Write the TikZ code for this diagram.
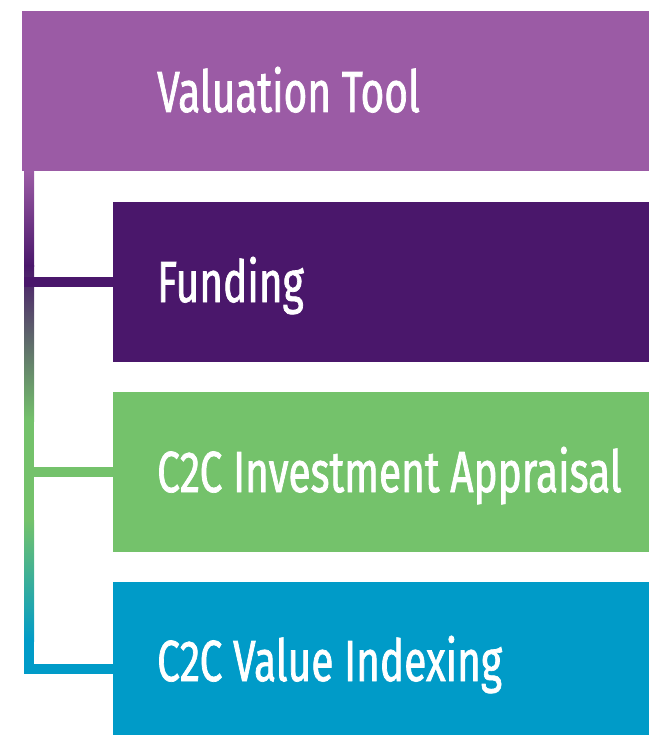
\documentclass[tikz,border=0pt]{standalone}
\usepackage{fontspec}
\usepackage{tikz}
\newfontfamily\labelfont[FakeStretch=0.7, FakeBold=1.2]{Fira Sans}
\definecolor{toolpurple}{HTML}{9B5BA5}
\definecolor{fundpurple}{HTML}{4A176B}
\definecolor{appgreen}{HTML}{74C26B}
\definecolor{indexblue}{HTML}{009BC8}
\tikzset{
    box/.style={rectangle, inner sep=0pt, minimum height=160pt, anchor=north west},
    boxtext/.style={anchor=base west, inner sep=0pt, text=white, font=\labelfont\fontsize{58}{58}\selectfont},
    link/.style={line width=10pt}
}

\begin{document}
\begin{tikzpicture}[x=1pt, y=-1pt]
        \useasboundingbox (0,0) rectangle (649,735);

        \node[box, fill=toolpurple, minimum width=627pt] (tool) at (22, 11) {};
        \node[box, fill=fundpurple, minimum width=536pt] (fund) at (113, 202) {};
        \node[box, fill=appgreen, minimum width=536pt] (app) at (113, 392) {};
        \node[box, fill=indexblue, minimum width=536pt, minimum height=153pt] (index) at (113, 582) {};

        \node[boxtext] (tooltext) at (157, 112) {Valuation Tool};
        \node[boxtext] (fundtext) at (157, 302) {Funding};
        \node[boxtext] (apptext) at (157, 492) {C2C Investment Appraisal};
        \node[boxtext] (indextext) at (157, 681) {C2C Value Indexing};

        % gradient bar down the left side
        \shade[top color=toolpurple, bottom color=fundpurple] (24, 172) rectangle (34, 266);
        \shade[top color=fundpurple, bottom color=appgreen] (24, 265) rectangle (34, 421);
        \fill[appgreen] (24, 420) rectangle (34, 521);
        \shade[top color=appgreen, bottom color=indexblue] (24, 520) rectangle (34, 641);
        \fill[indexblue] (24, 640) rectangle (34, 674);

        \coordinate (bar) at (24, 172);
        \coordinate (barbot) at (24, 668.5);
        \coordinate (indexend) at (113, 668.5);

        \draw[link, fundpurple] (bar |- fund.west) -- (fund.west);
        \draw[link, appgreen] (bar |- app.west) -- (app.west);
        \draw[link, indexblue] (barbot) -- (indexend);
    \end{tikzpicture}
\end{document}
